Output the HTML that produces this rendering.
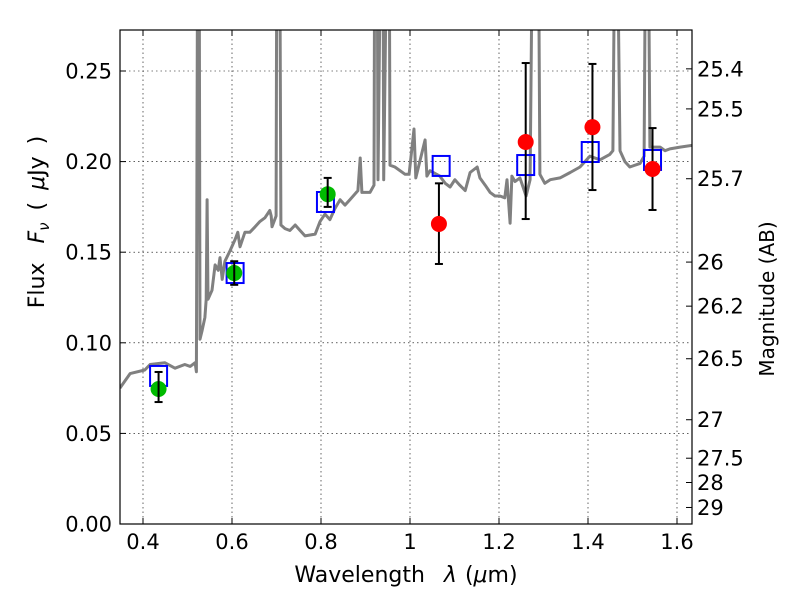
<!DOCTYPE html>
<html><head><meta charset="utf-8"><style>
body{margin:0;background:#fff;}
svg text{font-family:"DejaVu Sans","Liberation Sans",sans-serif;fill:#000;white-space:pre;}
</style></head><body>
<svg id="chart" width="800" height="600" xmlns="http://www.w3.org/2000/svg">
<defs><clipPath id="clip"><rect x="120" y="30" width="572" height="494"/></clipPath></defs>
<g id="grid"></g>
<g id="plot" clip-path="url(#clip)"></g>
<rect x="120" y="30" width="572" height="494" fill="none" stroke="#000" stroke-width="1.2"/>
<g id="axes"></g>
<text x="406" y="582" font-size="22" text-anchor="middle" xml:space="preserve">Wavelength <tspan dx="12" font-style="italic">λ</tspan><tspan dx="8">(</tspan><tspan font-style="italic">μ</tspan>m)</text>
<text transform="translate(44,222) rotate(-90)" font-size="22" text-anchor="middle" xml:space="preserve">Flux <tspan dx="12" font-style="italic">F</tspan><tspan font-style="italic" font-size="15" dy="5">ν</tspan><tspan dy="-5" dx="12">(</tspan><tspan dx="12" font-style="italic">μ</tspan>Jy<tspan dx="12">)</tspan></text>
<text transform="translate(774,299) rotate(-90)" font-size="20" text-anchor="middle">Magnitude (AB)</text>
</svg>
<script>
const specWl=[0.348,0.371,0.404,0.416,0.449,0.472,0.494,0.506,0.517,0.520,0.523,0.526,0.528,0.533,0.539,0.542,0.544,0.546,0.555,0.562,0.569,0.573,0.578,0.584,0.596,0.607,0.613,0.618,0.629,0.640,0.652,0.663,0.674,0.685,0.688,0.690,0.699,0.701,0.707,0.710,0.719,0.730,0.742,0.753,0.764,0.787,0.798,0.809,0.820,0.831,0.843,0.854,0.865,0.883,0.888,0.892,0.910,0.919,0.921,0.926,0.928,0.935,0.939,0.941,0.949,0.953,0.955,0.966,0.989,0.998,1.009,1.013,1.034,1.038,1.045,1.067,1.079,1.090,1.101,1.112,1.124,1.135,1.151,1.157,1.169,1.180,1.191,1.202,1.213,1.218,1.225,1.229,1.236,1.247,1.261,1.270,1.276,1.288,1.292,1.303,1.315,1.337,1.360,1.382,1.404,1.427,1.449,1.456,1.461,1.465,1.472,1.483,1.494,1.517,1.526,1.530,1.535,1.539,1.562,1.573,1.584,1.607,1.634];
const specFlux=[0.075,0.083,0.085,0.088,0.089,0.086,0.088,0.087,0.089,0.084,0.35,0.35,0.102,0.107,0.114,0.124,0.179,0.124,0.129,0.143,0.140,0.147,0.135,0.145,0.151,0.157,0.161,0.153,0.161,0.161,0.164,0.167,0.169,0.173,0.170,0.164,0.170,0.35,0.35,0.165,0.163,0.162,0.165,0.162,0.159,0.160,0.167,0.171,0.168,0.174,0.179,0.176,0.179,0.184,0.202,0.183,0.183,0.187,0.35,0.35,0.19,0.35,0.35,0.19,0.35,0.35,0.198,0.197,0.193,0.193,0.218,0.191,0.212,0.192,0.195,0.192,0.188,0.186,0.190,0.187,0.184,0.194,0.197,0.191,0.187,0.183,0.181,0.181,0.180,0.190,0.166,0.192,0.189,0.191,0.181,0.190,0.35,0.35,0.193,0.188,0.190,0.191,0.194,0.197,0.203,0.201,0.204,0.206,0.35,0.35,0.206,0.200,0.197,0.199,0.203,0.35,0.35,0.208,0.208,0.206,0.207,0.208,0.209];
const modelWl=[0.435,0.607,0.81,1.07,1.26,1.405,1.545];
const modelFlux=[0.0817,0.1385,0.1777,0.1976,0.1981,0.2053,0.2009];
const greenWl=[0.435,0.605,0.815];
const greenFlux=[0.0745,0.1385,0.182];
const greenHi=[0.0839,0.145,0.191];
const greenLo=[0.0673,0.132,0.175];
const redWl=[1.065,1.26,1.41,1.545];
const redFlux=[0.1656,0.2108,0.2190,0.1959];
const redHi=[0.188,0.2544,0.2539,0.2185];
const redLo=[0.1435,0.1683,0.1843,0.1733];
const xTicks=[0.4,0.6,0.8,1.0,1.2,1.4,1.6];
const xTickLabels=["0.4","0.6","0.8","1","1.2","1.4","1.6"];
const yTicks=[0,0.05,0.10,0.15,0.20,0.25];
const yTickLabels=["0.00","0.05","0.10","0.15","0.20","0.25"];
const magTicks=[25.4,25.5,25.7,26,26.2,26.5,27,27.5,28,29];
const magTickLabels=["25.4","25.5","25.7","26","26.2","26.5","27","27.5","28","29"];

const NS="http://www.w3.org/2000/svg";
const X=w=>143+(w-0.4)*445;
const Y=f=>524-f*1812;
function mk(tag,attrs,parent){const e=document.createElementNS(NS,tag);for(const k in attrs)e.setAttribute(k,attrs[k]);parent.appendChild(e);return e;}
const grid=document.getElementById('grid'),plot=document.getElementById('plot'),axes=document.getElementById('axes');

xTicks.forEach((v,i)=>{
  const x=X(v);
  const g=mk('line',{x1:x,x2:x,y1:30,y2:524,stroke:'#000','stroke-width':0.6,'stroke-dasharray':'1.5,3'},grid);
  
  
  const t1=mk('line',{x1:x,x2:x,y1:524,y2:518,stroke:'#000'},axes);
  
  
  const t2=mk('line',{x1:x,x2:x,y1:30,y2:36,stroke:'#000'},axes);
  
  
  const l=mk('text',{x:x,y:549,'font-size':21,'text-anchor':'middle'},axes);
  l.textContent=xTickLabels[i];
  
  
});
yTicks.forEach((v,i)=>{
  const y=Y(v);
  const g=mk('line',{x1:120,x2:692,y1:y,y2:y,stroke:'#000','stroke-width':0.6,'stroke-dasharray':'1.5,3'},grid);
  
  
  const t=mk('line',{x1:120,x2:126,y1:y,y2:y,stroke:'#000'},axes);
  
  
  const l=mk('text',{x:112,y:y+7.5,'font-size':21,'text-anchor':'end'},axes);
  l.textContent=yTickLabels[i];
  
  
});
magTicks.forEach((m,i)=>{
  const y=Y(Math.pow(10,(23.9-m)/2.5));
  const t=mk('line',{x1:692,x2:686,y1:y,y2:y,stroke:'#000'},axes);
  
  
  const l=mk('text',{x:697,y:y+7.5,'font-size':21},axes);
  l.textContent=magTickLabels[i];
  
  
});

const pts=specWl.map((w,i)=>X(w).toFixed(1)+','+Y(specFlux[i]).toFixed(1)).join(' ');
const sp=mk('polyline',{points:pts,fill:'none',stroke:'#808080','stroke-width':3,'stroke-linejoin':'round'},plot);



modelWl.forEach((w,i)=>{
  const s=mk('rect',{x:X(w)-8.5,y:Y(modelFlux[i])-10,width:17,height:20,fill:'none',stroke:'#0000ff','stroke-width':2},plot);
  
  
});
function errbar(x,hi,lo,name){
  const g=mk('g',{},plot);
  
  
  mk('line',{x1:x,x2:x,y1:Y(hi),y2:Y(lo),stroke:'#000','stroke-width':2},g);
  mk('line',{x1:x-4,x2:x+4,y1:Y(hi),y2:Y(hi),stroke:'#000','stroke-width':2},g);
  mk('line',{x1:x-4,x2:x+4,y1:Y(lo),y2:Y(lo),stroke:'#000','stroke-width':2},g);
}
greenWl.forEach((w,i)=>{
  const c=mk('circle',{cx:X(w),cy:Y(greenFlux[i]),r:8,fill:'#00bb00'},plot);
  
  
  errbar(X(w),greenHi[i],greenLo[i],'green-errorbar');
});
redWl.forEach((w,i)=>{
  errbar(X(w),redHi[i],redLo[i],'red-errorbar');
  const c=mk('circle',{cx:X(w),cy:Y(redFlux[i]),r:8,fill:'#ff0000'},plot);
  
  
});
</script>
</body></html>
